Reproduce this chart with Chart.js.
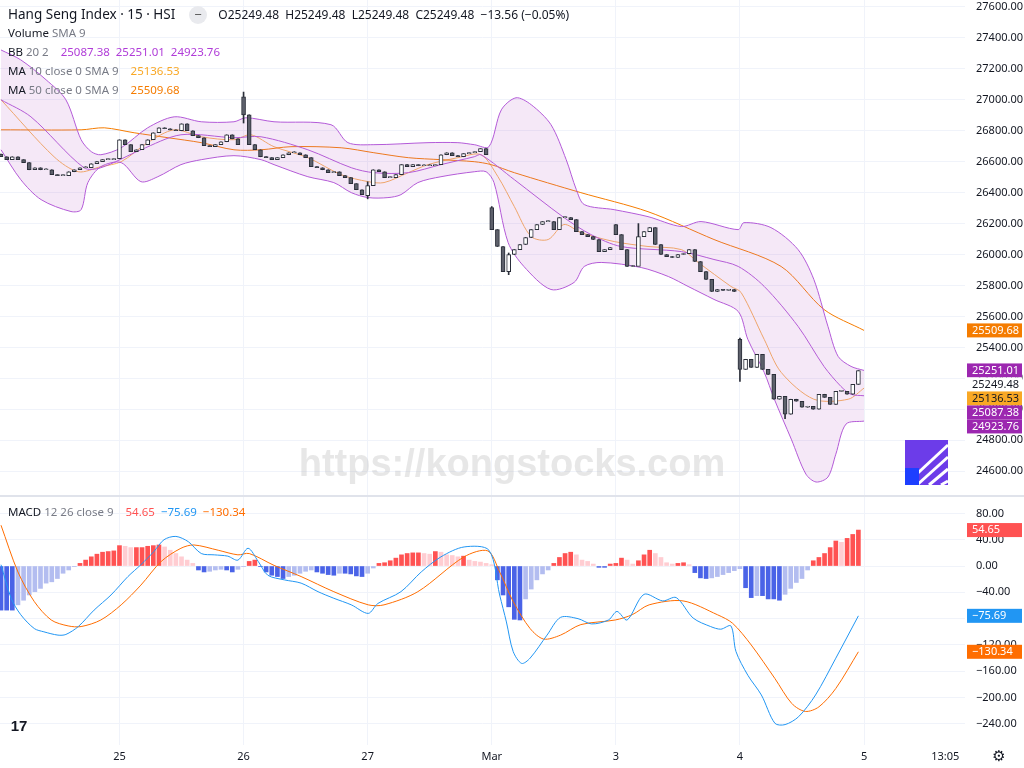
<!DOCTYPE html>
<html><head><meta charset="utf-8">
<script src="https://cdn.jsdelivr.net/npm/chart.js@4/dist/chart.umd.min.js"></script>
<style>
body{margin:0;background:#fff;font-family:"Noto Sans",sans-serif;}
#wrap{position:relative;width:1024px;height:768px;overflow:hidden;background:#fff}
#c1{position:absolute;left:0;top:0}
#c2{position:absolute;left:0;top:497px}
#sep{position:absolute;left:0;top:495px;width:1024px;height:2px;background:#e0e3eb}
.t{position:absolute;left:8px;font-size:11.5px;color:#131722;white-space:nowrap}
.g{color:#787b86}
</style></head><body>
<div id="wrap">
<canvas id="c1" width="1024" height="495"></canvas>
<div id="sep"></div>
<canvas id="c2" width="1024" height="271"></canvas>
<div class="t" style="top:5px;font-size:13.5px">Hang Seng Index · 15 · HSI
 <span style="display:inline-block;width:18px;height:18px;border-radius:9px;background:#e9eaee;color:#555;text-align:center;line-height:17px;margin:0 8px 0 10px;font-size:13px">−</span>
 <span style="font-size:12px">O25249.48&nbsp; H25249.48&nbsp; L25249.48&nbsp; C25249.48&nbsp; −13.56 (−0.05%)</span></div>
<div class="t" style="top:25px">Volume <span class="g">SMA 9</span></div>
<div class="t" style="top:44px">BB <span class="g">20 2</span>&nbsp;&nbsp;&nbsp; <span style="color:#b03cd8">25087.38&nbsp; 25251.01&nbsp; 24923.76</span></div>
<div class="t" style="top:63px">MA <span class="g">10 close 0 SMA 9</span>&nbsp;&nbsp;&nbsp; <span style="color:#f9a825">25136.53</span></div>
<div class="t" style="top:82px">MA <span class="g">50 close 0 SMA 9</span>&nbsp;&nbsp;&nbsp; <span style="color:#f57c00">25509.68</span></div>
<div class="t" style="top:504px">MACD <span class="g">12 26 close 9</span>&nbsp;&nbsp;&nbsp; <span style="color:#ff5252">54.65</span>&nbsp; <span style="color:#2196f3">−75.69</span>&nbsp; <span style="color:#ff6d00">−130.34</span></div>
</div>
<script>
// ---- data ----
const dayLabels=['25','26','27','Mar','3','4','5','13:05'];
const dayIdx=[21,43,65,87,109,131,153,167.4];
const closes=[26632,26613,26632,26613,26594,26548,26561,26548,26548,26516,26510,26510,26535,26548,26561,26561,26587,26600,26613,26613,26619,
26742,26710,26665,26677,26710,26742,26787,26819,26813,26806,26800,26845,26800,26768,26755,26703,26697,26710,26729,26774,26748,26710,
26903,26710,26677,26632,26626,26613,26626,26645,26658,26658,26645,26626,26568,26561,26548,26529,26535,26510,26497,26458,26419,26387,
26445,26548,26535,26497,26497,26516,26581,26568,26581,26574,26574,26574,26581,26645,26658,26639,26632,26652,26658,26665,26684,26645,
26161,26052,25890,26000,26032,26065,26110,26161,26194,26213,26213,26161,26239,26239,26226,26148,26129,26116,26097,26019,26032,26045,
26129,26032,25923,25923,26116,26148,26174,26065,26000,25987,25981,26000,26006,26032,25955,25890,25839,25761,25774,25768,25774,25761,
25258,25323,25271,25355,25258,25226,25065,25084,24968,25065,25052,25013,25019,25000,25097,25077,25032,25116,25116,25097,25161,25249.48];
const gapOpens={0:26650,43:27019,65:26381,87:26303,109:26194,131:25452};
const wicks={43:[26850,27050],65:[26360,26470],87:[26200,26310],90:[25870,26010],131:[25180,25460],139:[24940,25080],113:[26090,26200]};
const bbUpper=[[0,27322],[3.5,27258],[8,27129],[11.5,27000],[14.2,26742],[16,26665],[17.7,26645],[21.3,26690],[26,26819],[30.7,26890],[35.5,26858],[41.3,26858],[43.4,26884],[48.4,26858],[58.5,26839],[61.5,26723],[66.1,26710],[75.7,26723],[81,26723],[83.9,26710],[86.5,26697],[88.7,26935],[91.3,27013],[94,26968],[97.5,26839],[100.2,26613],[102,26419],[103.4,26323],[108.7,26290],[114.7,26245],[120.6,26181],[124.1,26213],[130.7,26161],[131.7,26206],[136.5,26174],[141.3,26032],[144.1,25839],[146.6,25536],[148.4,25342],[150.7,25277],[153,25251.01]];
const bbLower=[[0,26677],[3.5,26484],[7.1,26355],[12.4,26278],[14.2,26290],[15.4,26465],[17.7,26568],[21.3,26594],[24.8,26471],[27.8,26503],[31.9,26581],[35.5,26613],[41.3,26639],[46.1,26613],[48.4,26581],[54.4,26503],[59,26465],[62.1,26400],[65.1,26368],[68.6,26368],[70.9,26387],[73.9,26465],[78,26503],[83.9,26535],[86,26535],[87.4,26465],[89.9,26078],[92.7,25923],[97.5,25774],[101.6,25820],[103.4,25923],[106.4,25949],[113.5,25916],[118.3,25858],[121.8,25794],[126.4,25710],[130.7,25632],[132.4,25452],[135.3,25239],[137.1,25065],[140.1,24807],[142.7,24581],[144.5,24530],[146.6,24562],[148,24710],[149.8,24904],[153,24923.76]];
const bbMid=[[0,27000],[5.3,26890],[14.7,26561],[17.7,26561],[24.8,26677],[31.9,26774],[41.3,26755],[46.1,26761],[54.4,26677],[62.1,26561],[66.1,26529],[72.2,26529],[78,26581],[83.9,26632],[85.1,26645],[91,26484],[99.8,26239],[104.6,26129],[109.9,26052],[120.6,26019],[126.4,25968],[130.7,25923],[135.3,25794],[141.3,25536],[145.9,25277],[148.9,25148],[150.7,25097],[153,25087.38]];
const ma50=[[0,26806],[14.2,26806],[18.3,26819],[23.6,26787],[29.6,26755],[35.5,26723],[41.3,26677],[46.1,26677],[51.4,26697],[60.3,26690],[66.1,26658],[72.2,26626],[78,26613],[83.9,26600],[86.9,26581],[91,26529],[102.8,26400],[114.7,26277],[126.4,26097],[138.3,25923],[145.9,25645],[153,25509.68]];
const ma10=[[0,27000],[9.4,26632],[13.7,26535],[17.7,26568],[21.3,26600],[26,26723],[30.7,26806],[35.5,26761],[41.3,26742],[44.3,26774],[48.4,26697],[54.4,26626],[60.3,26516],[65.1,26471],[67.9,26465],[72.2,26529],[75.7,26581],[81,26626],[85.1,26645],[88.1,26503],[91,26310],[94,26116],[97,26097],[99.8,26194],[102.8,26142],[108.7,26084],[114.7,26052],[120.6,26032],[123.6,25949],[129.4,25794],[131.2,25755],[135.3,25452],[138.3,25239],[144.1,25065],[150.2,25065],[153,25136.53]];
const hist=[-67,-67,-67,-59,-52,-44,-39,-34,-26,-24,-19,-11,-6,-1,4,9,14,18,21,22,23,31,30,28,28,28,30,31,32,29,24,19,14,9,4,-6,-9,-8,-6,-5,-6,-9,-5,-1,7,9,-1,-9,-14,-16,-19,-16,-14,-11,-8,-6,-9,-11,-13,-14,-11,-11,-12,-15,-16,-11,-3,4,5,8,12,17,19,20,20,19,18,22,21,17,16,14,15,9,7,6,4,2,
-21,-44,-62,-81,-82,-50,-35,-21,-12,-6,4,13,19,21,17,9,7,3,-2,-2,3,4,12,9,3,8,17,24,19,13,5,3,4,5,2,-10,-18,-19,-18,-16,-13,-10,-7,-4,-33,-48,-45,-45,-50,-50,-52,-43,-34,-25,-19,-6,8,13,19,28,38,36,42,48,54.65];
const macdLine=[[0,2],[1.8,-49],[3.5,-74],[5.9,-95],[7.6,-100],[10.1,-105],[11.5,-104],[13.7,-92],[16.5,-67],[19.5,-44],[22.5,-16],[24.8,2],[27.1,22],[28.9,40],[31,45],[33.2,37],[35.5,19],[37.8,17],[40.2,15],[42,9],[43.8,27],[45.6,7],[47.3,-14],[50.2,-21],[53.2,-26],[56.2,-39],[59,-49],[62.1,-59],[65.1,-72],[66.8,-57],[70.9,-39],[74.5,-9],[78,14],[82.1,29],[86.5,24],[88.4,-44],[89.6,-85],[90.8,-130],[92.3,-148],[93.8,-140],[96.8,-105],[99.2,-78],[102.3,-80],[104.7,-88],[107.7,-82],[109.2,-69],[111,-82],[114,-43],[117.3,-53],[119.7,-48],[122.7,-79],[125.8,-92],[127.6,-96],[129.4,-91],[130.3,-130],[132.4,-166],[134.8,-196],[137.2,-239],[139,-241],[141.4,-229],[144.4,-196],[148,-140],[152,-75.69]];
const signalLine=[[0,62],[3,-9],[5.9,-54],[8.9,-82],[11.9,-91],[14.2,-92],[17.7,-82],[21.3,-59],[24.8,-29],[28.4,7],[31.9,27],[34.2,32],[38.5,24],[42,17],[44,19],[48.4,1],[53.2,-16],[59,-39],[65.1,-59],[67.9,-59],[73.9,-39],[82.1,14],[86.3,23],[88.4,-9],[90.8,-54],[93.8,-95],[96.2,-111],[99.2,-105],[102.8,-89],[108.9,-82],[111.9,-74],[114.9,-59],[120.9,-53],[127,-74],[129.7,-87],[133,-120],[137.2,-171],[140.2,-209],[142.6,-221],[145,-214],[148,-186],[152,-130.34]];
const priceTicks=[24600,24800,25000,25200,25400,25600,25800,26000,26200,26400,26600,26800,27000,27200,27400,27600];
const macdTicks=[80,40,0,-40,-80,-120,-160,-200,-240];
const priceBadges=[[25509.68,'#f57c00','#fff'],[25251.01,'#9c27b0','#fff'],[25249.48,'#ffffff','#131722'],[25136.53,'#f9a825','#131722'],[25087.38,'#9c27b0','#fff'],[24923.76,'#9c27b0','#fff']];
const macdBadges=[[54.65,'#ff5252'],[-75.69,'#2196f3'],[-130.34,'#ff6d00']];

// ---- build ----
const XMIN=-0.18, XMAX=170.9, FONT='11px "Noto Sans"';
const pts=a=>a.map(p=>({x:p[0],y:p[1]}));
const bodies=[],wickData=[],bodyColors=[];
closes.forEach((c,i)=>{
  const o=(i in gapOpens)?gapOpens[i]:closes[i-1];
  bodies.push({x:i,y:[o,c]});
  bodyColors.push(c>=o?'#ffffff':'#5d606b');
  const w=wicks[i]||[Math.min(o,c),Math.max(o,c)];
  wickData.push({x:i,y:w});
});
const fmt=v=>(v<0?'−':'')+Math.abs(v).toFixed(2);
const xAxis=(show)=>({type:'linear',min:XMIN,max:XMAX,offset:false,bounds:'data',
  afterBuildTicks:s=>{s.ticks=dayIdx.slice(0,7).map(v=>({value:v}));},
  afterFit:s=>{s.height=show?23:0;},
  ticks:{display:false},border:{display:false},grid:{color:'#f0f3fa',drawTicks:false,offset:false}});
const yAxis=(min,max,ticks)=>({position:'right',min,max,
  afterBuildTicks:s=>{s.ticks=ticks.map(v=>({value:v}));},
  afterFit:s=>{s.width=59;},
  ticks:{display:false},border:{display:false},grid:{color:'#f0f3fa',drawTicks:false}});
function badge(ctx,y,bg,fg,txt){
  ctx.fillStyle=bg;ctx.fillRect(967,y-7,55,14);
  ctx.fillStyle=fg;ctx.textAlign='left';ctx.textBaseline='middle';ctx.fillText(txt,972,y);
}
const priceLabels={id:'pl',
  beforeDatasetsDraw(ch){const c=ch.ctx;c.save();
    c.font='bold 38px "Liberation Sans"';c.fillStyle='rgba(185,185,185,0.35)';c.textAlign='center';c.textBaseline='middle';
    c.fillText('https://kongstocks.com',512,466);c.restore();},
  afterDraw(ch){const c=ch.ctx,y=ch.scales.y;c.save();c.font=FONT;
    c.fillStyle='#131722';c.textAlign='left';c.textBaseline='middle';
    priceTicks.forEach(v=>c.fillText(v.toFixed(2),976,y.getPixelForValue(v)));
    let last=-99;
    priceBadges.map(b=>[y.getPixelForValue(b[0]),b]).sort((a,b)=>a[0]-b[0]).forEach(([p,b])=>{
      p=Math.max(p,last+14);last=p;badge(c,p,b[1],b[2],b[0].toFixed(2));});
    c.fillStyle='#6c3ce9';c.fillRect(905,440,43,45);
    c.strokeStyle='#fff';c.lineWidth=3;
    for(let k=0;k<4;k++){c.beginPath();c.moveTo(905+k*12,485);c.lineTo(948,445+k*12);c.stroke();}
    c.fillStyle='#1d3fff';c.fillRect(905,468,14,17);
    c.restore();}};
new Chart(document.getElementById('c1'),{
  data:{datasets:[
    {type:'line',data:pts(bbUpper),borderColor:'#b35ad8',borderWidth:1,pointRadius:0,tension:0.3,fill:{target:1,above:'rgba(186,104,200,0.15)',below:'rgba(186,104,200,0.15)'},order:3},
    {type:'line',data:pts(bbLower),borderColor:'#b35ad8',borderWidth:1,pointRadius:0,tension:0.3,fill:false,order:3},
    {type:'line',data:pts(bbMid),borderColor:'#b35ad8',borderWidth:1,pointRadius:0,tension:0.3,fill:false,order:3},
    {type:'line',data:pts(ma50),borderColor:'#f57c00',borderWidth:1,pointRadius:0,tension:0.3,fill:false,order:3},
    {type:'line',data:pts(ma10),borderColor:'#f7b05a',borderWidth:1,pointRadius:0,tension:0.3,fill:false,order:3},
    {type:'bar',data:wickData,backgroundColor:'#2a2e39',barThickness:1,grouped:false,order:2,minBarLength:1},
    {type:'bar',data:bodies,backgroundColor:bodyColors,borderColor:'#2a2e39',borderWidth:1,borderSkipped:false,barThickness:4,grouped:false,order:1,minBarLength:1}
  ]},
  options:{responsive:false,animation:false,events:[],layout:{padding:0},
    plugins:{legend:{display:false},tooltip:{enabled:false}},
    scales:{x:xAxis(false),y:yAxis(24446,27645,priceTicks)}},
  plugins:[priceLabels]});

const macdLabels={id:'ml',
  afterDraw(ch){const c=ch.ctx,y=ch.scales.y,x=ch.scales.x;c.save();c.font=FONT;
    c.fillStyle='#131722';c.textAlign='left';c.textBaseline='middle';
    macdTicks.forEach(v=>c.fillText(fmt(v),976,y.getPixelForValue(v)));
    macdBadges.forEach(b=>badge(c,y.getPixelForValue(b[0]),b[1],'#fff',fmt(b[0])));
    c.fillStyle='#131722';c.textAlign='center';c.textBaseline='middle';
    dayLabels.forEach((l,i)=>c.fillText(l,x.getPixelForValue(dayIdx[i]),260));
    c.font='15px "DejaVu Sans"';c.fillText('⚙',999,260);
    c.font='bold 15px "Liberation Sans"';c.fillText('17',19,230);
    c.restore();}};
const histColors=hist.map((v,i)=>{const p=i?hist[i-1]:v;
  return v>=0?(v>=p?'#ff5252':'#ffcdd2'):(v<=p?'#4a63e7':'#b3bdf0');});
new Chart(document.getElementById('c2'),{
  data:{datasets:[
    {type:'line',data:pts(macdLine),borderColor:'#2196f3',borderWidth:1,pointRadius:0,tension:0.3,order:1},
    {type:'line',data:pts(signalLine),borderColor:'#ff6d00',borderWidth:1,pointRadius:0,tension:0.3,order:1},
    {type:'bar',data:hist.map((v,i)=>({x:i,y:v})),backgroundColor:histColors,barThickness:4,grouped:false,order:2}
  ]},
  options:{responsive:false,animation:false,events:[],layout:{padding:0},
    plugins:{legend:{display:false},tooltip:{enabled:false}},
    scales:{x:xAxis(true),y:yAxis(-272,104.9,macdTicks)}},
  plugins:[macdLabels]});
</script></body></html>
